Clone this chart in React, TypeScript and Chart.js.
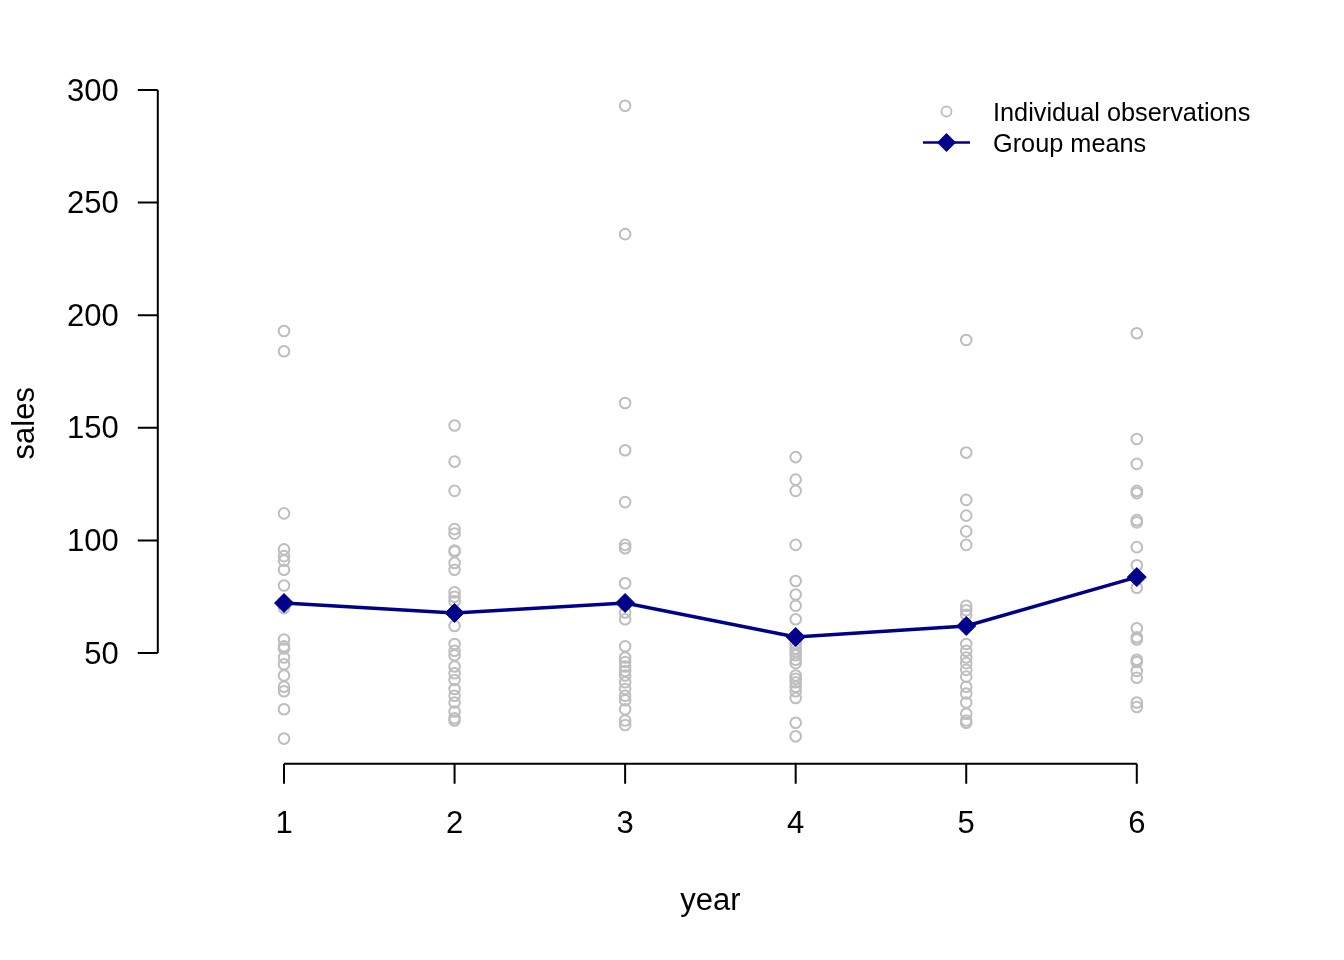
import { useEffect, useRef } from "react";
import { Chart, registerables } from "chart.js";

Chart.register(...registerables);

const years = [1, 2, 3, 4, 5, 6];
const salesYear1 = [193, 184, 112, 96, 93, 91, 87, 80, 70, 56, 53, 52, 48, 45, 40, 35, 33, 25, 12];
const salesYear2 = [151, 135, 122, 105, 103, 95.5, 95, 90, 87, 77, 75, 73, 62, 54, 51, 49, 44, 41, 38, 34, 31, 28, 24, 21, 20];
const salesYear3 = [293, 236, 161, 140, 117, 98, 96.5, 81, 72, 68, 65, 53, 48, 46, 44, 42, 40, 37, 34, 31, 29, 25, 20, 18];
const salesYear4 = [137, 127, 122, 98, 82, 76, 71, 65, 54, 52, 50.5, 49, 47, 45.5, 40, 38.5, 37, 35, 33, 30, 19, 13];
const salesYear5 = [189, 139, 118, 111, 104, 98, 71, 69, 67, 63, 54, 51, 48, 45.5, 42.5, 39.5, 35, 32, 28, 23, 20, 19];
const salesYear6 = [192, 145, 134, 122, 121, 109, 108, 97, 89, 84, 79, 61, 57, 56, 47, 46, 42, 39, 28, 26];
const groupMeans = [72.2, 67.8, 72.2, 57.1, 62, 83.7];

const yTicks = [50, 100, 150, 200, 250, 300];
const xTicks = [1, 2, 3, 4, 5, 6];

const FONT = '"Liberation Sans", Arial, Helvetica, sans-serif';
const GRAY = "#BEBEBE";
const DARKBLUE = "#00008B";

const observations = [salesYear1, salesYear2, salesYear3, salesYear4, salesYear5, salesYear6].flatMap(
  (vals, i) => vals.map(v => ({ x: years[i], y: v }))
);

// R-style axes, titles and legend
const baseGraphics = {
  id: "baseGraphics",
  afterDraw(chart: Chart) {
    const ctx = chart.ctx;
    const area = chart.chartArea;
    const xs = chart.scales.x;
    const ys = chart.scales.y;
    ctx.save();
    ctx.strokeStyle = "#000";
    ctx.fillStyle = "#000";
    ctx.lineWidth = 2;
    ctx.font = `31px ${FONT}`;

    // y axis
    const yx = area.left;
    ctx.beginPath();
    ctx.moveTo(yx, ys.getPixelForValue(yTicks[0]));
    ctx.lineTo(yx, ys.getPixelForValue(yTicks[yTicks.length - 1]));
    yTicks.forEach(t => {
      const py = ys.getPixelForValue(t);
      ctx.moveTo(yx, py);
      ctx.lineTo(yx - 20, py);
    });
    ctx.stroke();
    ctx.textAlign = "right";
    ctx.textBaseline = "middle";
    yTicks.forEach(t => ctx.fillText(String(t), yx - 39, ys.getPixelForValue(t) + 2));

    // x axis
    const xy = area.bottom;
    ctx.beginPath();
    ctx.moveTo(xs.getPixelForValue(xTicks[0]), xy);
    ctx.lineTo(xs.getPixelForValue(xTicks[xTicks.length - 1]), xy);
    xTicks.forEach(t => {
      const px = xs.getPixelForValue(t);
      ctx.moveTo(px, xy);
      ctx.lineTo(px, xy + 20);
    });
    ctx.stroke();
    ctx.textAlign = "center";
    xTicks.forEach(t => ctx.fillText(String(t), xs.getPixelForValue(t), xy + 61));

    // titles
    ctx.fillText("year", (area.left + area.right) / 2, 901);
    ctx.save();
    ctx.translate(25, (area.top + area.bottom) / 2);
    ctx.rotate(-Math.PI / 2);
    ctx.fillText("sales", 0, 0);
    ctx.restore();

    // legend
    ctx.font = `25.3px ${FONT}`;
    ctx.textAlign = "left";
    ctx.fillText("Individual observations", 993, 114);
    ctx.fillText("Group means", 993, 145);

    ctx.strokeStyle = GRAY;
    ctx.lineWidth = 1.8;
    ctx.beginPath();
    ctx.arc(946.5, 111.5, 5, 0, Math.PI * 2);
    ctx.stroke();

    ctx.strokeStyle = DARKBLUE;
    ctx.fillStyle = DARKBLUE;
    ctx.lineWidth = 2.5;
    ctx.beginPath();
    ctx.moveTo(923, 142.5);
    ctx.lineTo(970, 142.5);
    ctx.stroke();
    ctx.beginPath();
    ctx.moveTo(946.5 - 9.5, 142.5);
    ctx.lineTo(946.5, 142.5 - 9.5);
    ctx.lineTo(946.5 + 9.5, 142.5);
    ctx.lineTo(946.5, 142.5 + 9.5);
    ctx.closePath();
    ctx.fill();
    ctx.restore();
  },
};

export default function App() {
  const chartRef = useRef<HTMLCanvasElement>(null);
  const chartInstance = useRef<Chart | null>(null);

  useEffect(() => {
    document.body.style.margin = "0";
    if (!chartRef.current) return;
    if (chartInstance.current) chartInstance.current.destroy();
    const ctx = chartRef.current.getContext("2d");
    if (!ctx) return;

    chartInstance.current = new Chart(ctx, {
      type: "scatter",
      data: {
        datasets: [
          {
            type: "line",
            label: "Group means",
            data: years.map((x, i) => ({ x, y: groupMeans[i] })),
            borderColor: DARKBLUE,
            backgroundColor: DARKBLUE,
            borderWidth: 3.5,
            pointStyle: "rectRot",
            pointRadius: 9.5,
            pointBorderWidth: 1,
            tension: 0,
            order: 0,
          },
          {
            label: "Individual observations",
            data: observations,
            borderColor: GRAY,
            backgroundColor: "rgba(0,0,0,0)",
            borderWidth: 2,
            pointRadius: 5.3,
            order: 1,
          },
        ],
      },
      options: {
        responsive: false,
        animation: false,
        devicePixelRatio: 1,
        layout: { padding: { top: 82.8, right: 81, left: 0, bottom: 0 } },
        plugins: {
          legend: { display: false },
          tooltip: { enabled: false },
        },
        scales: {
          x: {
            type: "linear",
            min: 0.26,
            max: 6.74,
            grid: { display: false },
            border: { display: false },
            ticks: { display: false },
            afterFit: (scale: any) => {
              scale.height = 196.2;
            },
          },
          y: {
            type: "linear",
            min: 0.8,
            max: 303.2,
            grid: { display: false },
            border: { display: false },
            ticks: { display: false },
            afterFit: (scale: any) => {
              scale.width = 157.8;
            },
          },
        },
      },
      plugins: [baseGraphics],
    });

    return () => {
      if (chartInstance.current) {
        chartInstance.current.destroy();
        chartInstance.current = null;
      }
    };
  }, []);

  return (
    <div style={{ width: 1344, height: 960, background: "#fff" }}>
      <canvas ref={chartRef} width={1344} height={960}></canvas>
    </div>
  );
}
